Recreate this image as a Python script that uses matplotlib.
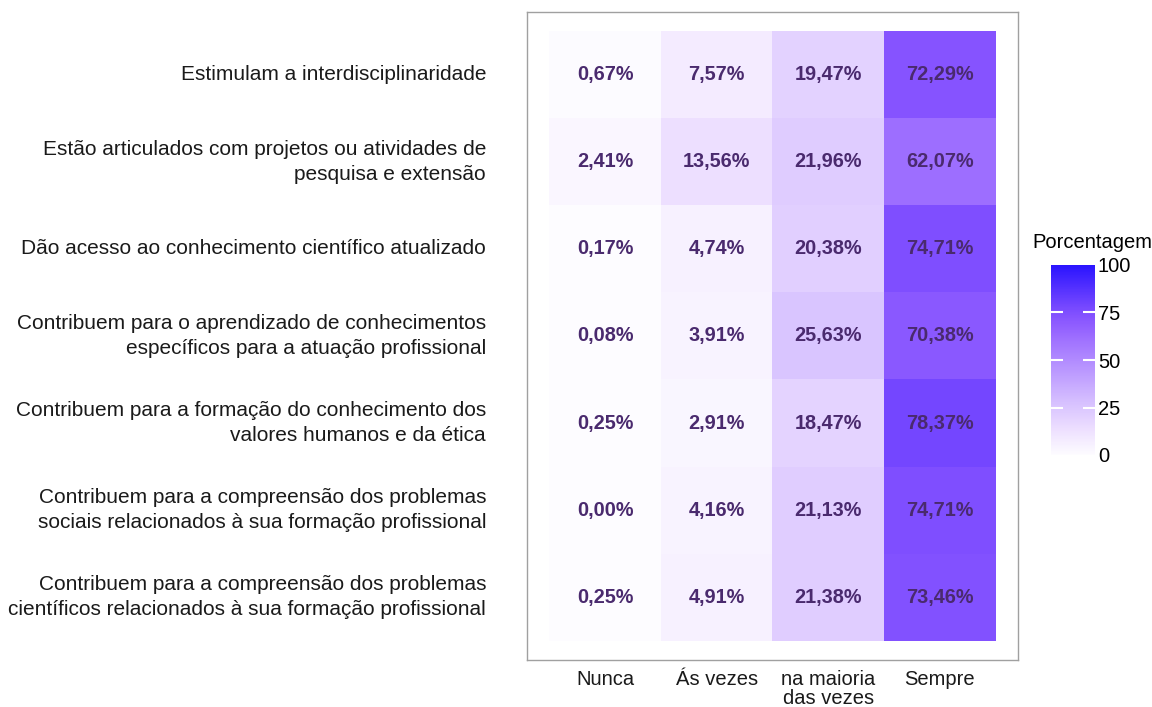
import numpy as np
import matplotlib.pyplot as plt
from matplotlib.colors import LinearSegmentedColormap

plt.rcParams['font.family'] = ['Liberation Sans', 'DejaVu Sans']

# data (rows top -> bottom)
items = [
    "Estimulam a interdisciplinaridade",
    "Estão articulados com projetos ou atividades de\npesquisa e extensão",
    "Dão acesso ao conhecimento científico atualizado",
    "Contribuem para o aprendizado de conhecimentos\nespecíficos para a atuação profissional",
    "Contribuem para a formação do conhecimento dos\nvalores humanos e da ética",
    "Contribuem para a compreensão dos problemas\nsociais relacionados à sua formação profissional",
    "Contribuem para a compreensão dos problemas\ncientíficos relacionados à sua formação profissional",
]
answers = ["Nunca", "Ás vezes", "na maioria\ndas vezes", "Sempre"]
nunca = [0.67, 2.41, 0.17, 0.08, 0.25, 0.00, 0.25]
as_vezes = [7.57, 13.56, 4.74, 3.91, 2.91, 4.16, 4.91]
maioria = [19.47, 21.96, 20.38, 25.63, 18.47, 21.13, 21.38]
sempre = [72.29, 62.07, 74.71, 70.38, 78.37, 74.71, 73.46]

vals = np.array([nunca, as_vezes, maioria, sempre]).T  # rows x cols

cmap = LinearSegmentedColormap.from_list("pct", [
    (0.0, "#FDFCFF"), (0.135, "#EDDFFF"), (0.22, "#DFCCFF"), (0.26, "#D9C4FF"),
    (0.62, "#9D6EFF"), (0.72, "#8855FF"), (0.78, "#7648FF"), (1.0, "#2A14FF")])

fig = plt.figure(figsize=(11.52, 7.07), dpi=100)
ax = fig.add_axes([527/1152, 1-660/707, 491/1152, 648/707])

nr, nc = vals.shape
im = ax.imshow(vals, cmap=cmap, vmin=0, vmax=100, aspect='auto',
               extent=(-0.5, nc-0.5, nr-0.5, -0.5), interpolation='nearest')
for i in range(nr):
    for j in range(nc):
        ax.text(j, i, f"{vals[i, j]:.2f}%".replace(".", ","), ha='center', va='center',
                fontsize=14.3, fontweight='bold', color='#4A2A6E')

ax.set_xlim(-0.7, nc-0.3)
ax.set_ylim(nr-0.28, -0.72)
ax.set_xticks(range(nc))
ax.set_xticklabels(answers, fontsize=14.5, color='#1A1A1A', linespacing=1.0, va='top')
ax.set_yticks(range(nr))
ax.set_yticklabels(items, fontsize=15, color='#1A1A1A', linespacing=1.4, va='center')
ax.tick_params(length=0)
ax.tick_params(axis='y', pad=29.5)
ax.tick_params(axis='x', pad=7)
for s in ax.spines.values():
    s.set_color('#A0A0A0')
    s.set_linewidth(1.0)

cax = fig.add_axes([1051/1152, 1-455/707, 44/1152, 190/707])
cb = fig.colorbar(im, cax=cax, ticks=[0, 25, 50, 75, 100])
cb.outline.set_visible(False)
cax.tick_params(length=0, labelsize=14.5, pad=2)
for t in [25, 50, 75]:
    cax.plot([0, 0.28], [t, t], color='white', lw=1.5, solid_capstyle='butt')
    cax.plot([0.72, 1.0], [t, t], color='white', lw=1.5, solid_capstyle='butt')
cax.set_xlim(0, 1)
fig.text(1032/1152, 1-242/707, "Porcentagem", fontsize=14.5, va='center', ha='left')

fig.savefig("out.png", dpi=100)
